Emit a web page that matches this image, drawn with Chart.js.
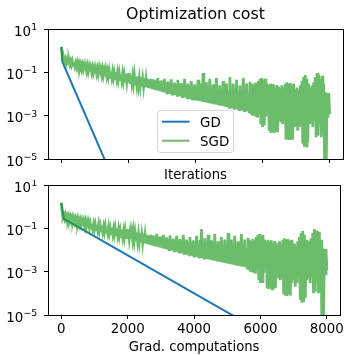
<!DOCTYPE html>
<html>
<head>
<meta charset="utf-8">
<script src="https://cdn.jsdelivr.net/npm/chart.js@4.4.1/dist/chart.umd.min.js"></script>
<style>
  html, body { margin: 0; padding: 0; background: #fff; }
  #wrap { position: relative; width: 346px; height: 355px; }
  #wrap canvas { position: absolute; left: 0; }
  #costChart { top: 0; }
  #gradChart { top: 180px; }
</style>
</head>
<body>
<div id="wrap">
  <canvas id="costChart" width="346" height="180"></canvas>
  <canvas id="gradChart" width="346" height="175"></canvas>
</div>
<script>
const FONT = '"DejaVu Sans", sans-serif';

const seriesNames = ['GD', 'SGD'];
const seriesColors = ['#1f77b4', 'rgba(44,160,44,0.7)'];

const xTicks = [0, 2000, 4000, 6000, 8000];
const yTicks = [10, 1e-1, 1e-3, 1e-5];
const yTickExps = ['1', '\u22121', '\u22123', '\u22125'];

// GD : cost vs iterations (top) and vs gradient computations (bottom)
const gdIterX = [0, 30, 1564];
const gdIterY = [1.5, 0.3, 1e-6];
const gdGradX = [0, 80, 6286];
const gdGradY = [1.5, 0.27, 1e-6];

// SGD : one gradient per iteration, read every 25 steps (0 .. 8000)
const sgdStep = 25;
const sgdCost = [
  1.5, 0.6, 0.33, 0.42, 0.285, 0.41, 0.269, 0.37, 0.251, 0.36, 0.234, 0.33, 0.219, 0.32, 0.204, 0.30, 0.191, 0.27, 0.178, 0.27,
  0.166, 0.25, 0.155, 0.23, 0.145, 0.22, 0.135, 0.21, 0.126, 0.20, 0.117, 0.19, 0.11, 0.18, 0.105, 0.165, 0.10, 0.16, 0.095, 0.155,
  0.091, 0.15, 0.087, 0.14, 0.083, 0.15, 0.079, 0.13, 0.076, 0.135, 0.072, 0.12, 0.069, 0.125, 0.066, 0.11, 0.063, 0.115, 0.06, 0.10,
  0.058, 0.105, 0.055, 0.095, 0.052, 0.10, 0.05, 0.095, 0.048, 0.09, 0.046, 0.08, 0.043, 0.085, 0.041, 0.075, 0.039, 0.08, 0.037, 0.09,
  0.035, 0.093, 0.034, 0.07, 0.032, 0.065, 0.030, 0.07, 0.0285, 0.06, 0.027, 0.065, 0.0257, 0.055, 0.0245, 0.06, 0.0232, 0.05, 0.022, 0.055,
  0.021, 0.048, 0.020, 0.05, 0.019, 0.045, 0.018, 0.05, 0.017, 0.042, 0.0163, 0.046, 0.0155, 0.04, 0.0148, 0.055, 0.0141, 0.038, 0.0135, 0.042,
  0.0129, 0.036, 0.0123, 0.05, 0.0117, 0.034, 0.0112, 0.038, 0.0107, 0.032, 0.0103, 0.048, 0.010, 0.03, 0.0096, 0.034, 0.0091, 0.028, 0.0087, 0.045,
  0.0083, 0.027, 0.0079, 0.032, 0.0076, 0.025, 0.0072, 0.05, 0.0069, 0.024, 0.0066, 0.03, 0.0063, 0.022, 0.006, 0.04, 0.0058, 0.021, 0.0055, 0.028,
  0.0052, 0.02, 0.0051, 0.045, 0.0049, 0.019, 0.0047, 0.03, 0.0045, 0.093, 0.0043, 0.02, 0.0042, 0.035, 0.004, 0.018, 0.0039, 0.05, 0.0037, 0.017,
  0.0036, 0.028, 0.0034, 0.016, 0.0033, 0.055, 0.0032, 0.016, 0.003, 0.025, 0.0029, 0.015, 0.0029, 0.04, 0.0027, 0.015, 0.0026, 0.03, 0.0025, 0.014,
  0.0024, 0.06, 0.0023, 0.014, 0.0022, 0.03, 0.0022, 0.013, 0.0021, 0.045, 0.002, 0.013, 0.0019, 0.025, 0.0019, 0.012, 0.0018, 0.055, 0.0017, 0.012,
  0.0017, 0.03, 0.0016, 0.012, 0.0015, 0.037, 0.0012, 0.03, 0.001, 0.026, 0.0011, 0.033, 0.0009, 0.028, 0.0008, 0.04, 0.0012, 0.05, 0.0004, 0.055,
  0.0003, 0.045, 0.00035, 0.05, 0.0009, 0.03, 0.0015, 0.025, 0.0002, 0.03, 0.00016, 0.024, 0.00018, 0.028, 0.00016, 0.02, 0.0002, 0.026, 0.00017, 0.022,
  0.0006, 0.018, 0.0005, 0.025, 0.0004, 0.02, 0.0006, 0.03, 0.00009, 0.035, 0.00008, 0.03, 0.000076, 0.032, 0.00009, 0.025, 0.00008, 0.03, 0.0003, 0.016,
  0.0004, 0.02, 0.0002, 0.015, 0.0003, 0.025, 0.0005, 0.04, 0.00005, 0.06, 0.000037, 0.076, 0.00004, 0.05, 0.00006, 0.03, 0.0004, 0.02, 0.0005, 0.025,
  0.0003, 0.035, 0.0006, 0.06, 0.0001, 0.093, 0.00012, 0.08, 0.0004, 0.05, 0.0001, 0.07, 0.00015, 0.03, 0.000004, 0.012, 0.000005, 0.011, 0.0008, 0.011,
  0.0012
];

function toPoints(xs, ys) {
  return ys.map((y, i) => ({ x: xs[i], y: y }));
}

const sgdPoints = sgdCost.map((y, i) => ({ x: i * sgdStep, y: y }));

function makeDatasets(gdPoints) {
  return [
    { label: seriesNames[0], data: gdPoints, borderColor: seriesColors[0], borderWidth: 2, order: 1 },
    // the dense noisy trace is drawn a bit thicker so that it reads as a solid band
    { label: seriesNames[1], data: sgdPoints, borderColor: seriesColors[1], borderWidth: 2.8, order: 0 }
  ];
}

// frame, y labels with exponents, titles, legend
function decorPlugin(cfg) {
  return {
    id: 'decor',
    afterDraw(chart) {
      const ctx = chart.ctx;
      const a = chart.chartArea;
      const yScale = chart.scales.y;
      ctx.save();

      ctx.strokeStyle = '#000';
      ctx.lineWidth = 1;
      ctx.strokeRect(Math.round(a.left) + 0.5, Math.round(a.top) + 0.5,
                     Math.round(a.right - a.left), Math.round(a.bottom - a.top));

      ctx.fillStyle = '#000';
      ctx.textBaseline = 'alphabetic';
      const right = a.left - 10.7;
      yTicks.forEach((v, i) => {
        const y = yScale.getPixelForValue(v);
        ctx.font = '9.4px ' + FONT;
        ctx.textAlign = 'right';
        const expW = ctx.measureText(yTickExps[i]).width;
        ctx.fillText(yTickExps[i], right, y + 1);
        ctx.font = '13.4px ' + FONT;
        ctx.fillText('10', right - expW - 0.3, y + 6.7);
      });

      ctx.textAlign = 'center';
      const cx = (a.left + a.right) / 2;
      cfg.texts.forEach(t => {
        ctx.font = t.size + 'px ' + FONT;
        ctx.fillText(t.text, cx, t.y);
      });

      if (cfg.legend) {
        const lx = a.left + 109.5, ly = a.top + 81.5, lw = 76, lh = 42;
        ctx.beginPath();
        ctx.roundRect(lx, ly, lw, lh, 3);
        ctx.fillStyle = 'rgba(255,255,255,0.8)';
        ctx.fill();
        ctx.strokeStyle = 'rgba(204,204,204,0.8)';
        ctx.lineWidth = 1;
        ctx.stroke();
        ctx.font = '13.4px ' + FONT;
        ctx.textAlign = 'left';
        chart.data.datasets.forEach((ds, i) => {
          const yy = ly + 11.2 + i * 19;
          ctx.strokeStyle = ds.borderColor;
          ctx.lineWidth = 2;
          ctx.beginPath();
          ctx.moveTo(lx + 4.5, yy);
          ctx.lineTo(lx + 32, yy);
          ctx.stroke();
          ctx.fillStyle = '#000';
          ctx.fillText(ds.label, lx + 42.5, yy + 4.9);
        });
      }
      ctx.restore();
    }
  };
}

function makeOptions(showXLabels, topPad, xAxisHeight) {
  return {
    responsive: false,
    animation: false,
    events: [],
    layout: { padding: { top: topPad, right: 3, left: 0, bottom: 0 } },
    plugins: { legend: { display: false }, tooltip: { enabled: false }, title: { display: false } },
    elements: { point: { radius: 0 }, line: { tension: 0 } },
    scales: {
      x: {
        type: 'linear',
        min: -400,
        max: 8400,
        afterBuildTicks: s => { s.ticks = xTicks.map(v => ({ value: v })); },
        afterFit: s => { s.height = xAxisHeight; },
        grid: { drawOnChartArea: false, drawTicks: true, tickLength: 4, color: '#000', lineWidth: 1 },
        border: { display: false },
        ticks: {
          display: showXLabels,
          color: '#000',
          padding: 2,
          maxRotation: 0,
          font: { family: 'DejaVu Sans', size: 13.4 },
          callback: v => String(v)
        }
      },
      y: {
        type: 'logarithmic',
        min: 1e-5,
        max: 10,
        afterBuildTicks: s => { s.ticks = yTicks.map(v => ({ value: v })); },
        afterFit: s => { s.width = 48; },
        grid: { drawOnChartArea: false, drawTicks: true, tickLength: 4, color: '#000', lineWidth: 1 },
        border: { display: false },
        ticks: { display: false }
      }
    }
  };
}

new Chart(document.getElementById('costChart'), {
  type: 'line',
  data: { datasets: makeDatasets(toPoints(gdIterX, gdIterY)) },
  options: makeOptions(false, 29, 21),
  plugins: [decorPlugin({
    legend: true,
    texts: [
      { text: 'Optimization cost', size: 15.8, y: 18.5 },
      { text: 'Iterations', size: 13.2, y: 179 }
    ]
  })]
});

new Chart(document.getElementById('gradChart'), {
  type: 'line',
  data: { datasets: makeDatasets(toPoints(gdGradX, gdGradY)) },
  options: makeOptions(true, 5, 40),
  plugins: [decorPlugin({
    legend: false,
    texts: [
      { text: 'Grad. computations', size: 13.2, y: 171.3 }
    ]
  })]
});
</script>
</body>
</html>
